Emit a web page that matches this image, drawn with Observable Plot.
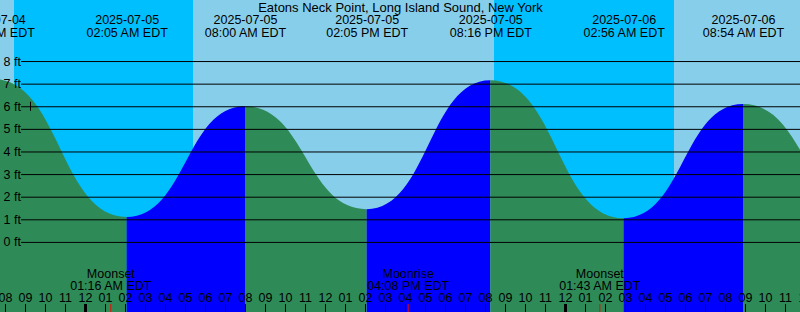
<!DOCTYPE html>
<html><head><meta charset="utf-8">
<script src="https://cdn.jsdelivr.net/npm/d3@7"></script>
<script src="https://cdn.jsdelivr.net/npm/@observablehq/plot@0.6"></script>
<style>html,body{margin:0;padding:0;overflow:hidden;background:#87CEEB}</style>
</head><body><div id="chart"></div>
<script>
const title = "Eatons Neck Point, Long Island Sound, New York";
const tideTimes = ["2025-07-04T19:25","2025-07-05T02:05","2025-07-05T08:00","2025-07-05T14:05","2025-07-05T20:16","2025-07-06T02:56","2025-07-06T08:54","2025-07-06T15:05"];
const tideLevels = [7.2, 1.1, 6.0, 1.45, 7.15, 1.05, 6.1, 1.3];
const nightStarts = ["2025-07-04T20:27","2025-07-05T20:27"];
const nightEnds = ["2025-07-05T05:24","2025-07-06T05:27"];
const moonTimes = ["2025-07-05T01:16","2025-07-05T16:08","2025-07-06T01:43"];
const moonEvents = ["Moonset","Moonrise","Moonset"];
const levelTicks = [0,1,2,3,4,5,6,7,8];
const hourFirst = "2025-07-04T19:00", hourLast = "2025-07-06T12:00";
const nowTime = "2025-07-04T21:15", nowLevel = 6.0;
const viewStart = "2025-07-04T19:45", viewEnd = "2025-07-06T11:45";
const levelDomain = [-3.1, 10.7];
const tz = "EDT";

const T = s => new Date(s + ":00Z");
const fDate = d3.utcFormat("%Y-%m-%d");
const fTime = d3.utcFormat("%I:%M %p");
const fHour = d3.utcFormat("%I");

const extrema = tideTimes.map((s, i) => ({time: T(s), level: tideLevels[i]}));
const segments = [];
for (let i = 0; i < extrema.length - 1; i++) {
  const dir = extrema[i+1].level > extrema[i].level ? "rising" : "falling";
  segments.push({...extrema[i], seg: i, dir}, {...extrema[i+1], seg: i, dir});
}
const nights = nightStarts.map((s, i) => ({start: T(s), end: T(nightEnds[i])}));
const moon = moonTimes.map((s, i) => ({time: T(s), event: moonEvents[i]}));
const hours = d3.utcHour.range(T(hourFirst), d3.utcHour.offset(T(hourLast), 1));
const now = [{time: T(nowTime), level: nowLevel}];
const FS = 12.5;

const chart = Plot.plot({
  width: 800, height: 312, margin: 0,
  x: {type: "utc", domain: [T(viewStart), T(viewEnd)], axis: null},
  y: {domain: levelDomain, axis: null},
  color: {domain: ["falling","rising"], range: ["#2E8B57","#0000FF"]},
  style: {background: "#87CEEB", overflow: "hidden", fontFamily: "'Liberation Sans', Arial, sans-serif", fontSize: "12px", color: "black"},
  marks: [
    Plot.rect(nights, {x1: "start", x2: "end", fill: "#00BFFF"}),
    Plot.areaY(segments, {x: "time", y1: () => levelDomain[0], y2: "level", z: "seg", fill: "dir", curve: "bump-x"}),
    Plot.ruleY(levelTicks, {stroke: "black", insetLeft: 21}),
    Plot.text(levelTicks, {y: d => d, text: d => `${d} ft`, frameAnchor: "left", textAnchor: "start", dx: 3, fill: "black", fontSize: FS}),
    Plot.ruleX(now, {x: "time", y1: d => d.level - 0.2, y2: d => d.level + 0.2, stroke: "black"}),
    Plot.text(extrema, {x: "time", text: d => `${fDate(d.time)}\n${fTime(d.time)} ${tz}`, frameAnchor: "top", lineAnchor: "top", dy: 14.7, lineHeight: 1.0, fill: "black", fontSize: FS}),
    Plot.text([title], {text: d => d, frameAnchor: "top", lineAnchor: "top", dy: 2, fill: "black", fontSize: 13}),
    Plot.text(moon, {x: "time", text: d => `${d.event}\n${fTime(d.time)} ${tz}`, frameAnchor: "top", lineAnchor: "top", dy: 268.5, lineHeight: 1.0, fill: "black", fontSize: FS}),
    Plot.text(hours, {x: d => d, text: d => fHour(d), frameAnchor: "top", lineAnchor: "top", dy: 293, fill: "black", fontSize: FS}),
    Plot.ruleX(hours, {x: d => d, stroke: "black", strokeWidth: d => d.getUTCHours() === 0 ? 3 : 1, insetTop: 304}),
    Plot.ruleX(moon, {x: "time", stroke: "red", insetTop: 304})
  ]
});
document.getElementById("chart").append(chart);
</script>
</body></html>
